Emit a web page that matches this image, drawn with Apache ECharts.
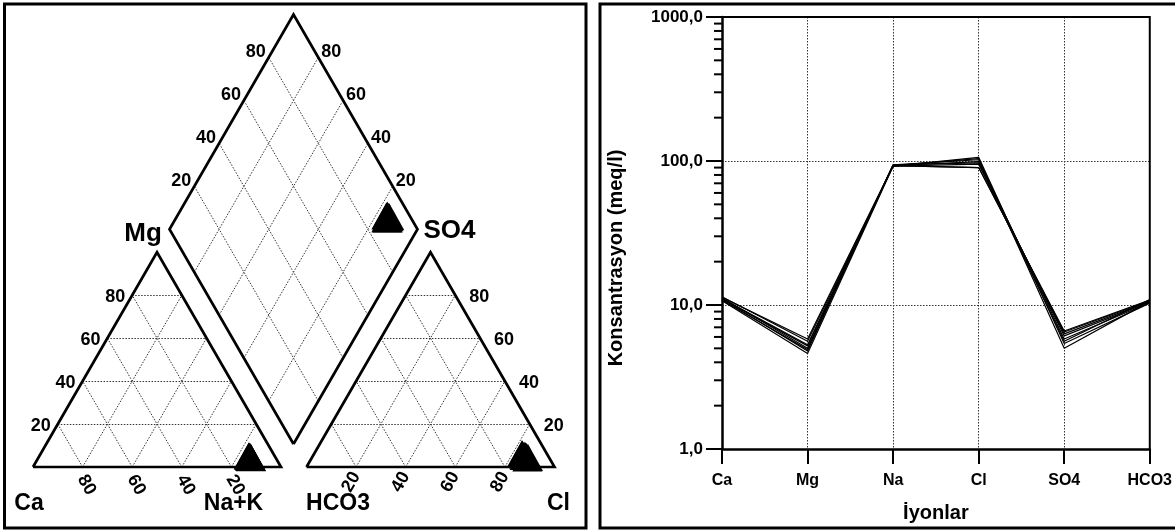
<!DOCTYPE html>
<html><head><meta charset="utf-8">
<script src="https://cdn.jsdelivr.net/npm/echarts@6/dist/echarts.min.js"></script>
<style>html,body{margin:0;padding:0;background:#fff}#c{width:1175px;height:531px}</style>
</head><body><div id="c"></div>
<script>
// ---- data ----
const ions = ['Ca', 'Mg', 'Na', 'Cl', 'SO4', 'HCO3'];
const yTickValues = [1, 10, 100, 1000];
const sample1 = [11.0, 5.2, 93, 90, 6.5, 10.7];
const sample2 = [11.1, 5.3, 93, 90, 6.6, 10.8];
const sample3 = [11.4, 5.6, 92, 95, 6.3, 10.6];
const sample4 = [10.8, 4.9, 93, 99, 6.1, 10.5];
const sample5 = [11.2, 5.0, 94, 102, 5.8, 10.4];
const sample6 = [10.7, 4.6, 92, 106, 5.4, 10.3];
const sample7 = [11.3, 5.8, 93, 104, 5.0, 10.6];
const sample8 = [11.0, 4.8, 94, 97, 5.6, 10.9];
const samples = [sample1, sample2, sample3, sample4, sample5, sample6, sample7, sample8];
const piperLevels = [20, 40, 60, 80];
const piperNames = { ca: 'Ca', nak: 'Na+K', mg: 'Mg', hco3: 'HCO3', cl: 'Cl', so4: 'SO4' };

// ---- piper layout ----
const FONT = "'Liberation Sans', Arial, Helvetica, sans-serif";
const S = 248, H = S * Math.sqrt(3) / 2;
const CAT0 = [33, 467], AN0 = [306.5, 467], DB = [293.5, 444];
function tern(o, l, r, t) { return [o[0] + S * (r + t / 2), o[1] - H * t]; }
function dia(c, a) { return [DB[0] + S / 2 * (a - c), DB[1] - H * (c + a)]; }

const frames = [
  [tern(CAT0,1,0,0), tern(CAT0,0,1,0), tern(CAT0,0,0,1), tern(CAT0,1,0,0)],
  [tern(AN0,1,0,0), tern(AN0,0,1,0), tern(AN0,0,0,1), tern(AN0,1,0,0)],
  [dia(0,0), dia(1,0), dia(1,1), dia(0,1), dia(0,0)]
];
const gridSegs = [];
piperLevels.forEach(p => {
  const f = p / 100;
  [CAT0, AN0].forEach(o => {
    gridSegs.push([tern(o,1-f,0,f), tern(o,0,1-f,f)]);
    gridSegs.push([tern(o,1-f,f,0), tern(o,0,f,1-f)]);
    gridSegs.push([tern(o,f,1-f,0), tern(o,f,0,1-f)]);
  });
  gridSegs.push([dia(f,0), dia(f,1)]);
  gridSegs.push([dia(0,f), dia(1,f)]);
});

const catPts = [], anPts = [], diaPts = [];
samples.forEach(s => {
  const ca = s[0], mg = s[1], nak = s[2], cl = s[3], so4 = s[4], hco3 = s[5];
  const ct = ca + mg + nak, at = cl + so4 + hco3;
  catPts.push(tern(CAT0, ca / ct, nak / ct, mg / ct));
  anPts.push(tern(AN0, hco3 / at, cl / at, so4 / at));
  diaPts.push(dia((ca + mg) / ct, (cl + so4) / at));
});

// ---- graphic texts ----
const g = [];
function txt(x, y, text, size, align, rot) {
  g.push({ type: 'text', x: x, y: y, rotation: rot || 0, z: 10, silent: true,
    style: { text: text, font: 'bold ' + size + 'px ' + FONT, fill: '#000',
      align: align || 'center', verticalAlign: 'middle' } });
}
piperLevels.forEach(p => {
  const f = p / 100;
  let pt = tern(CAT0, 1 - f, 0, f); txt(pt[0] - 7, pt[1] + 1.5, String(p), 18, 'right');
  pt = tern(CAT0, f, 1 - f, 0); txt(pt[0] + 4, pt[1] + 18, String(p), 18, 'center', -Math.PI / 3);
  pt = tern(AN0, 1 - f, f, 0); txt(pt[0] - 5, pt[1] + 15, String(p), 18, 'center', Math.PI / 3);
  pt = tern(AN0, 0, 1 - f, f); txt(pt[0] + 14, pt[1] + 1.5, String(p), 18, 'left');
  pt = dia(1, f); txt(pt[0] - 3, pt[1] - 5, String(p), 18, 'right');
  pt = dia(f, 1); txt(pt[0] + 3, pt[1] - 5, String(p), 18, 'left');
});
txt(29, 504, piperNames.ca, 23);
txt(233.5, 504, piperNames.nak, 23);
txt(338, 504, piperNames.hco3, 23);
txt(558.5, 504, piperNames.cl, 23);
txt(143, 234, piperNames.mg, 26);
txt(449.5, 231, piperNames.so4, 26);
g.push({ type: 'text', x: 616, y: 258, rotation: Math.PI / 2, z: 10, silent: true,
  style: { text: 'Konsantrasyon (meq/l)', font: 'bold 20px ' + FONT, fill: '#000', align: 'center', verticalAlign: 'middle' } });
g.push({ type: 'rect', z: 10, silent: true, shape: { x: 4.5, y: 4, width: 581.5, height: 524 },
  style: { fill: 'none', stroke: '#000', lineWidth: 3 } });
g.push({ type: 'rect', z: 10, silent: true, shape: { x: 600, y: 4, width: 600, height: 524 },
  style: { fill: 'none', stroke: '#000', lineWidth: 3 } });

const minorVals = [];
[1, 10, 100].forEach(d => { for (let k = 2; k <= 9; k++) minorVals.push(d * k); });

const chart = echarts.init(document.getElementById('c'), null, { renderer: 'canvas' });
const series = [
  { type: 'lines', coordinateSystem: 'cartesian2d', xAxisIndex: 0, yAxisIndex: 0, polyline: false, silent: true, z: 2,
    data: gridSegs.map(c => ({ coords: c })), lineStyle: { color: '#333', width: 1, type: [1.5, 1.5], opacity: 1 } },
  { type: 'lines', coordinateSystem: 'cartesian2d', xAxisIndex: 0, yAxisIndex: 0, polyline: true, silent: true, z: 3,
    data: frames.map(c => ({ coords: c })), lineStyle: { color: '#000', width: 2.7, opacity: 1, join: 'miter' } },
  { type: 'scatter', xAxisIndex: 0, yAxisIndex: 0, symbol: 'triangle', symbolSize: [30, 27], z: 4, silent: true,
    itemStyle: { color: '#000', opacity: 1 }, data: catPts.concat(anPts, diaPts) },
  { type: 'custom', xAxisIndex: 1, yAxisIndex: 1, silent: true, clip: false, z: 5,
    data: minorVals.map(v => [0, v]),
    renderItem: (params, api) => {
      const p = api.coord([api.value(0), api.value(1)]);
      return { type: 'line', shape: { x1: p[0] - 8, y1: p[1], x2: p[0], y2: p[1] }, style: { stroke: '#000', lineWidth: 2 } };
    } },
  { type: 'custom', xAxisIndex: 1, yAxisIndex: 1, silent: true, clip: false, z: 5,
    data: [[0, 1]],
    renderItem: (params, api) => {
      const a = api.coord([0, yTickValues[3]]), b = api.coord([ions.length - 1, yTickValues[3]]), c = api.coord([ions.length - 1, yTickValues[0]]);
      return { type: 'polyline', shape: { points: [a, b, c] }, style: { stroke: '#000', lineWidth: 2, fill: 'none' } };
    } }
];
samples.forEach(s => series.push({ type: 'line', xAxisIndex: 1, yAxisIndex: 1, data: s, symbol: 'none', silent: true, z: 6,
  lineStyle: { color: '#000', width: 1.2 } }));

chart.setOption({
  animation: false,
  backgroundColor: '#fff',
  grid: [
    { left: 0, top: 0, width: 590, height: 531, show: false },
    { left: 722, top: 17, width: 432, height: 432, show: false }
  ],
  xAxis: [
    { type: 'value', gridIndex: 0, min: 0, max: 590, show: false },
    { type: 'category', gridIndex: 1, data: ions, boundaryGap: false,
      axisLine: { show: true, lineStyle: { color: '#000', width: 2.5 } },
      axisTick: { show: true, length: 15, lineStyle: { color: '#000', width: 2 } },
      axisLabel: { margin: 24, fontSize: 16, fontWeight: 'bold', color: '#000', fontFamily: FONT },
      splitLine: { show: true, interval: (i) => i > 0 && i < ions.length - 1, lineStyle: { color: '#333', width: 1, type: [1.5, 1.5] } },
      name: 'İyonlar', nameLocation: 'middle', nameGap: 54,
      nameTextStyle: { fontSize: 20, fontWeight: 'bold', color: '#000', fontFamily: FONT } }
  ],
  yAxis: [
    { type: 'value', gridIndex: 0, min: 0, max: 531, inverse: true, show: false },
    { type: 'log', logBase: 10, gridIndex: 1, min: yTickValues[0], max: yTickValues[3], splitNumber: 3,
      axisLine: { show: true, lineStyle: { color: '#000', width: 2.5 } },
      axisTick: { show: true, length: 16, lineStyle: { color: '#000', width: 2 } },
      axisLabel: { margin: 19, fontSize: 17, fontWeight: 'bold', color: '#000', fontFamily: FONT,
        formatter: v => Number(v).toFixed(1).replace('.', ',') },
      splitLine: { show: true, lineStyle: { color: '#333', width: 1, type: [1.5, 1.5] } },
      minorTick: { show: false } }
  ],
  graphic: { elements: g },
  series: series
});
</script></body></html>
